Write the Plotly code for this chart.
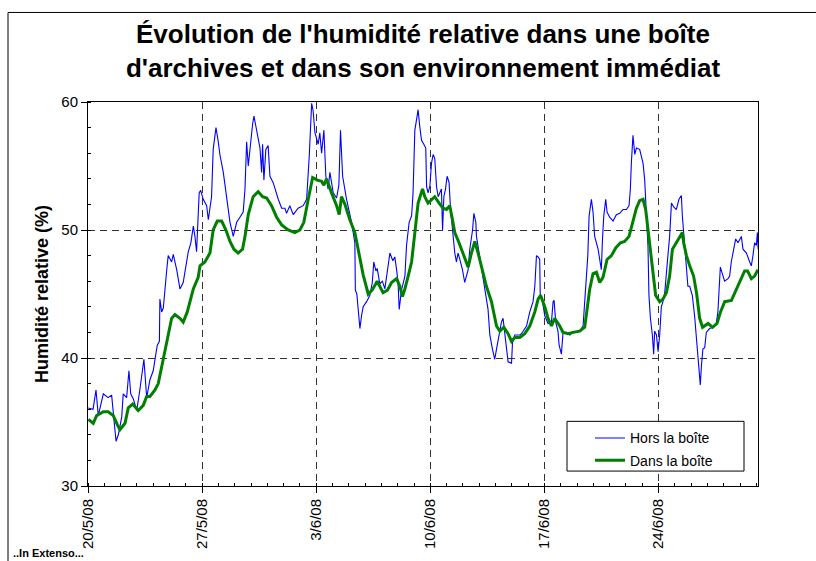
import pandas as pd
import plotly.graph_objects as go

START = pd.Timestamp("2008-05-20")

# "Hors la boîte" (outside the box): days since 20/5/08 and relative humidity (%)
hors_days = [
    0.02, 0.31, 0.49, 0.63, 0.94, 1.23, 1.45, 1.55, 1.72, 1.86,
    2.07, 2.16, 2.37, 2.51, 2.62, 2.78, 2.99, 3.19, 3.43, 3.60,
    3.80, 4.00, 4.25, 4.38, 4.41, 4.52, 4.62, 4.83, 4.92, 5.13,
    5.23, 5.44, 5.64, 5.84, 5.95, 6.15, 6.31, 6.46, 6.56, 6.66,
    6.82, 6.91, 7.07, 7.28, 7.38, 7.58, 7.68, 7.85, 7.99, 8.09,
    8.30, 8.50, 8.71, 8.91, 9.12, 9.32, 9.52, 9.63, 9.73, 9.83,
    9.93, 10.10, 10.18, 10.34, 10.55, 10.65, 10.71, 10.79, 10.91, 11.05,
    11.16, 11.36, 11.47, 11.67, 11.88, 12.08, 12.18, 12.38, 12.59, 12.89,
    13.20, 13.41, 13.57, 13.72, 13.81, 13.92, 14.12, 14.22, 14.33, 14.47,
    14.59, 14.73, 14.84, 15.04, 15.25, 15.39, 15.49, 15.62, 15.86, 16.17,
    16.37, 16.40, 16.49, 16.68, 16.78, 16.88, 17.09, 17.29, 17.44, 17.53,
    17.66, 17.74, 17.90, 18.06, 18.21, 18.41, 18.52, 18.70, 18.82, 18.93,
    19.02, 19.09, 19.23, 19.44, 19.54, 19.70, 19.85, 19.94, 20.05, 20.19,
    20.25, 20.35, 20.46, 20.60, 20.72, 20.77, 20.86, 20.97, 21.07, 21.17,
    21.27, 21.38, 21.48, 21.68, 21.75, 21.83, 21.93, 22.03, 22.15, 22.24,
    22.36, 22.50, 22.60, 22.70, 22.81, 22.97, 23.11, 23.32, 23.42, 23.59,
    23.67, 23.79, 23.83, 24.03, 24.20, 24.34, 24.54, 24.65, 24.81, 24.95,
    25.06, 25.22, 25.36, 25.46, 25.57, 25.67, 25.77, 25.98, 26.04, 26.18,
    26.49, 26.59, 26.90, 27.10, 27.30, 27.41, 27.51, 27.61, 27.71, 27.74,
    27.88, 28.02, 28.22, 28.43, 28.53, 28.59, 28.69, 28.83, 28.90, 29.04,
    29.14, 29.35, 29.55, 29.75, 30.16, 30.37, 30.47, 30.58, 30.66, 30.74,
    30.88, 30.98, 31.08, 31.29, 31.39, 31.49, 31.56, 31.64, 31.76, 31.84,
    32.00, 32.21, 32.41, 32.62, 32.82, 33.03, 33.19, 33.27, 33.33, 33.43,
    33.54, 33.64, 33.84, 33.95, 34.05, 34.15, 34.25, 34.35, 34.41, 34.50,
    34.62, 34.70, 34.76, 34.87, 34.97, 35.07, 35.17, 35.27, 35.38, 35.48,
    35.56, 35.68, 35.79, 35.93, 36.09, 36.25, 36.40, 36.46, 36.54, 36.60,
    36.71, 36.80, 36.91, 37.07, 37.21, 37.36, 37.48, 37.56, 37.63, 37.72,
    37.83, 37.93, 38.13, 38.34, 38.54, 38.64, 38.79, 38.91, 39.05, 39.26,
    39.36, 39.46, 39.56, 39.73, 39.87, 39.97, 40.08, 40.18, 40.39, 40.59,
    40.69, 40.79, 40.89, 41.00, 41.06, 41.11,
]
hors_rh = [
    36.1, 36.0, 37.5, 35.5, 37.2, 36.9, 37.1, 35.9, 33.5, 34.0,
    35.4, 37.2, 36.9, 39.0, 37.2, 36.8, 35.9, 37.6, 39.9, 36.9,
    38.3, 39.0, 41.0, 41.3, 44.6, 43.6, 43.9, 46.9, 48.0, 47.5,
    48.1, 46.9, 45.4, 45.9, 46.9, 48.3, 49.0, 50.3, 49.5, 48.3,
    52.9, 53.1, 52.4, 51.9, 50.8, 52.6, 56.3, 58.0, 56.9, 55.9,
    54.5, 52.4, 50.6, 49.5, 50.6, 51.0, 51.4, 53.2, 56.9, 55.0,
    56.3, 58.3, 58.9, 57.8, 56.4, 54.5, 56.7, 53.9, 56.3, 56.6,
    54.2, 53.7, 53.2, 52.4, 51.7, 51.7, 51.3, 51.9, 51.2, 51.7,
    51.9, 52.4, 55.7, 59.9, 59.3, 57.6, 56.7, 57.6, 56.0, 57.8,
    54.2, 53.2, 54.5, 52.9, 52.5, 53.5, 57.8, 54.2, 52.4, 50.6,
    49.0, 45.3, 45.0, 42.3, 43.3, 44.0, 44.4, 44.9, 45.9, 47.5,
    46.8, 47.0, 45.8, 46.0, 45.4, 47.5, 48.2, 47.6, 47.9, 46.9,
    45.9, 43.8, 45.3, 46.4, 48.8, 50.6, 51.1, 52.9, 57.8, 58.9,
    59.4, 58.1, 57.0, 56.7, 56.4, 53.4, 52.9, 53.4, 55.2, 55.9,
    55.6, 53.4, 52.6, 53.2, 50.0, 52.6, 53.2, 54.2, 53.7, 51.6,
    50.0, 48.2, 47.5, 48.2, 47.7, 46.9, 45.9, 46.9, 48.5, 50.0,
    51.3, 50.6, 49.5, 48.0, 46.4, 45.4, 43.8, 41.8, 40.7, 39.9,
    40.7, 41.8, 42.8, 43.1, 41.8, 40.7, 39.7, 39.6, 41.2, 41.8,
    41.8, 41.9, 42.5, 43.6, 44.4, 45.6, 48.0, 47.9, 47.7, 45.0,
    44.4, 43.3, 42.7, 42.8, 44.4, 44.5, 42.8, 42.1, 41.0, 40.3,
    42.0, 42.0, 41.8, 42.0, 42.1, 42.5, 44.4, 46.4, 48.0, 51.1,
    52.4, 51.4, 49.5, 48.5, 47.5, 46.9, 49.3, 51.1, 52.4, 51.4,
    51.0, 50.7, 51.2, 51.3, 51.6, 51.6, 51.9, 53.2, 55.2, 57.4,
    55.9, 56.4, 56.3, 55.7, 55.2, 53.9, 51.1, 48.8, 44.9, 43.1,
    41.8, 40.3, 42.1, 41.8, 40.5, 41.8, 44.0, 44.4, 45.1, 46.9,
    47.8, 49.5, 52.1, 51.8, 51.6, 52.4, 52.7, 51.1, 49.8, 48.5,
    46.4, 45.6, 45.6, 44.9, 43.3, 41.0, 38.9, 37.9, 39.4, 40.7,
    40.8, 42.0, 42.3, 42.4, 42.7, 43.6, 47.1, 46.5, 46.0, 46.2,
    46.4, 47.5, 48.2, 49.3, 49.0, 49.3, 49.5, 48.5, 48.2, 47.5,
    47.2, 48.0, 49.0, 48.8, 49.8, 48.5,
]

# "Dans la boîte" (inside the box)
dans_days = [
    0.02, 0.32, 0.53, 0.94, 1.24, 1.55, 1.80, 1.96, 2.27, 2.47,
    2.74, 3.08, 3.39, 3.60, 3.80, 4.11, 4.31, 4.52, 4.72, 4.92,
    5.13, 5.33, 5.64, 5.84, 6.09, 6.46, 6.76, 6.87, 7.17, 7.48,
    7.68, 7.93, 8.20, 8.46, 8.71, 8.95, 9.21, 9.48, 9.63, 9.83,
    10.13, 10.44, 10.71, 10.96, 11.26, 11.57, 11.88, 12.28, 12.69, 13.00,
    13.24, 13.51, 13.78, 14.06, 14.33, 14.47, 14.63, 14.94, 15.25, 15.41,
    15.55, 15.76, 16.06, 16.37, 16.63, 16.88, 17.19, 17.43, 17.74, 17.90,
    18.10, 18.37, 18.62, 18.93, 19.13, 19.29, 19.44, 19.64, 19.85, 20.05,
    20.25, 20.52, 20.66, 20.86, 21.07, 21.27, 21.54, 21.78, 21.99, 22.19,
    22.36, 22.50, 22.76, 23.05, 23.32, 23.52, 23.73, 23.93, 24.20, 24.44,
    24.75, 25.06, 25.26, 25.51, 25.77, 25.98, 26.18, 26.49, 26.79, 27.10,
    27.41, 27.61, 27.76, 28.02, 28.22, 28.43, 28.63, 28.94, 29.14, 29.45,
    29.75, 30.16, 30.47, 30.61, 30.78, 30.98, 31.19, 31.39, 31.59, 31.70,
    31.84, 32.11, 32.37, 32.66, 32.92, 33.19, 33.40, 33.64, 33.84, 34.05,
    34.21, 34.35, 34.50, 34.70, 34.82, 35.07, 35.27, 35.48, 35.60, 35.68,
    35.85, 36.09, 36.30, 36.46, 36.54, 36.71, 36.91, 37.15, 37.34, 37.52,
    37.70, 38.04, 38.31, 38.59, 38.80, 39.06, 39.47, 39.78, 40.08, 40.28,
    40.46, 40.69, 40.89, 41.10,
]
dans_rh = [
    35.2, 34.9, 35.5, 35.8, 35.8, 35.5, 34.8, 34.4, 34.9, 36.1,
    36.4, 35.9, 36.3, 37.0, 37.0, 37.5, 38.0, 39.3, 40.5, 41.9,
    43.1, 43.4, 43.1, 42.8, 43.6, 45.4, 46.3, 47.2, 47.5, 48.2,
    50.0, 50.7, 50.7, 50.0, 49.1, 48.5, 48.2, 48.5, 49.5, 51.2,
    52.6, 53.0, 52.6, 52.5, 51.9, 51.0, 50.4, 50.0, 49.8, 50.0,
    50.6, 52.4, 54.1, 53.9, 53.8, 53.5, 54.0, 52.9, 51.9, 51.2,
    52.6, 52.0, 50.8, 49.8, 48.2, 46.5, 45.0, 45.3, 46.0, 45.6,
    45.1, 45.3, 45.9, 46.2, 45.6, 44.8, 45.4, 46.4, 47.5, 49.8,
    52.1, 53.2, 52.6, 52.1, 52.4, 52.6, 52.1, 51.7, 51.6, 51.9,
    50.8, 49.8, 49.0, 48.0, 47.1, 48.2, 49.1, 48.2, 46.9, 45.6,
    44.4, 42.5, 42.1, 42.4, 41.9, 41.3, 41.6, 41.6, 41.9, 42.5,
    43.6, 44.6, 44.9, 44.0, 43.1, 42.5, 43.1, 42.5, 42.0, 41.9,
    42.0, 42.1, 42.4, 43.8, 45.4, 46.6, 46.7, 45.9, 46.3, 46.9,
    47.7, 48.0, 48.6, 49.0, 49.1, 49.5, 50.6, 51.7, 52.3, 52.4,
    51.6, 50.0, 48.2, 45.9, 44.9, 44.4, 44.6, 45.1, 46.0, 46.4,
    48.5, 49.0, 49.4, 49.8, 49.0, 48.0, 47.2, 46.4, 45.0, 43.1,
    42.4, 42.7, 42.4, 42.7, 43.6, 44.4, 44.5, 45.4, 46.3, 46.8,
    46.8, 46.2, 46.4, 46.9,
]

assert len(hors_days) == len(hors_rh)
assert len(dans_days) == len(dans_rh)

tick_dates = ["2008-05-20", "2008-05-27", "2008-06-03", "2008-06-10", "2008-06-17", "2008-06-24"]
tick_labels = ["20/5/08", "27/5/08", "3/6/08", "10/6/08", "17/6/08", "24/6/08"]
y_ticks = [30, 40, 50, 60]

TITLE = "Évolution de l'humidité relative dans une boîte<br>d'archives et dans son environnement immédiat"
FONT = "Liberation Sans, Arial, sans-serif"


def to_dates(days):
    return START + pd.to_timedelta(days, unit="D")


fig = go.Figure()
fig.add_trace(go.Scatter(
    x=to_dates(hors_days), y=hors_rh, mode="lines", name="Hors la boîte",
    line=dict(color="#0000FF", width=1.1), legendgroup="a",
))
fig.add_trace(go.Scatter(
    x=to_dates(dans_days), y=dans_rh, mode="lines", name="Dans la boîte",
    line=dict(color="#008000", width=3), legendgroup="b",
))

W, H = 816, 561
L, R, T, B = 88, 58, 102, 73
pw, ph = W - L - R, H - T - B


def px(x):
    return (x - L) / pw


def py(y):
    return (H - B - y) / ph


fig.update_layout(
    width=W, height=H,
    margin=dict(l=L, r=R, t=T, b=B),
    paper_bgcolor="white", plot_bgcolor="white",
    font=dict(family=FONT, color="black", size=14),
    title=dict(text=TITLE, x=0.5, xref="paper", y=1 - 43 / H, yref="container",
               xanchor="center", yanchor="middle",
               font=dict(family=FONT, size=26, color="black", weight="bold")),
    showlegend=True,
    legend=dict(x=px(590), y=py(424), xanchor="left", yanchor="top",
                bgcolor="rgba(0,0,0,0)", borderwidth=0,
                font=dict(family=FONT, size=14, color="black"),
                tracegroupgap=1),
    xaxis=dict(
        type="date", range=[START, START + pd.Timedelta(days=41.1)],
        tickmode="array", tickvals=tick_dates, ticktext=tick_labels,
        tickangle=-90, tickfont=dict(size=15),
        ticks="outside", ticklen=6, tickcolor="black",
        showline=True, linecolor="black", linewidth=1, mirror=True,
        showgrid=True, gridcolor="#333333", gridwidth=1, griddash="7px,5px",
        zeroline=False,
        minor=dict(tickmode="linear", tick0="2008-05-20", dtick=86400000,
                   ticks="inside", ticklen=3, tickcolor="black", showgrid=False),
    ),
    yaxis=dict(
        range=[30, 60], tickmode="array", tickvals=y_ticks,
        ticks="outside", ticklen=6, tickcolor="black", tickfont=dict(size=15),
        showline=True, linecolor="black", linewidth=1, mirror=True,
        showgrid=True, gridcolor="#333333", gridwidth=1, griddash="7px,5px",
        zeroline=False,
        minor=dict(tickmode="linear", tick0=30, dtick=2,
                   ticks="inside", ticklen=3, tickcolor="black", showgrid=False),
    ),
    shapes=[
        # outer chart frame
        dict(type="rect", xref="paper", yref="paper",
             x0=px(8), x1=px(830), y0=py(575), y1=py(12),
             line=dict(color="black", width=1), fillcolor="rgba(0,0,0,0)", layer="below"),
        # legend box
        dict(type="rect", xref="paper", yref="paper",
             x0=px(567), x1=px(744), y0=py(473), y1=py(423),
             line=dict(color="black", width=1), fillcolor="white", layer="above"),
    ],
    annotations=[
        dict(text="<b>Humidité relative (%)</b>", xref="paper", yref="paper",
             x=px(42), y=0.5, textangle=-90, showarrow=False,
             xanchor="center", yanchor="middle", font=dict(family=FONT, size=18)),
        dict(text="<b>..In Extenso...</b>", xref="paper", yref="paper",
             x=px(11), y=py(555), showarrow=False, xanchor="left", yanchor="middle",
             font=dict(family=FONT, size=11)),
    ],
)

fig.write_html(
    "out.html",
    config={"displayModeBar": False},
    post_script="document.body.style.margin='0';document.body.style.padding='0';"
                "document.documentElement.style.overflow='hidden';",
)
